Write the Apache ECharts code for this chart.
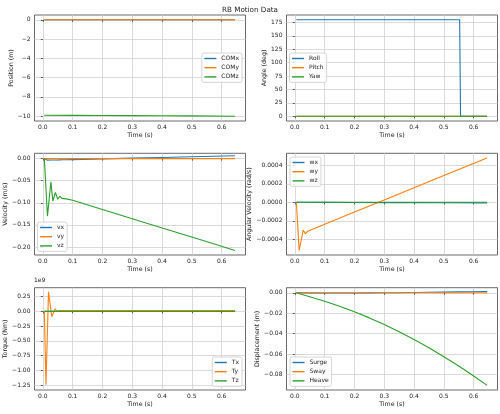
<!DOCTYPE html>
<html><head><meta charset="utf-8">
<script src="https://cdn.jsdelivr.net/npm/echarts@6/dist/echarts.min.js"></script>
<style>html,body{margin:0;padding:0;background:#fff}#c{width:500px;height:414px}</style>
</head><body><div id="c"></div>
<script>
// ---------- DATA ----------
// Panel 1: Position
const tPos = [0.005, 0.1, 0.2, 0.3, 0.4, 0.5, 0.645];
const COMx = [0, 0, 0, 0, 0, 0.0005, 0.001];
const COMy = [0, 0, 0, 0, 0, 0, 0];
const COMz = [-9.91, -9.918, -9.928, -9.94, -9.955, -9.972, -10.0];
// Panel 2: Angle
const tAng = [0.005, 0.1, 0.2, 0.3, 0.4, 0.5, 0.553, 0.556, 0.645];
const Roll = [180, 180, 180, 180, 180, 180, 180, 0, 0];
const Pitch = [0, 0, 0, 0, 0, 0, 0, 0, 0];
const Yaw = [0, 0, 0, 0, 0, 0, 0, 0, 0];
// Panel 3: Velocity
const tVel = [0.005, 0.0155, 0.027, 0.0335, 0.042, 0.05, 0.057, 0.064, 0.069, 0.078, 0.1, 0.2, 0.3, 0.4, 0.5, 0.645];
const vx = [0, -0.0035, -0.0033, -0.0032, -0.0031, -0.003, -0.0028, -0.0027, -0.0027, -0.0025, -0.0022, -0.0006, 0.001, 0.0026, 0.0042, 0.0065];
const vy = [0, 0, 0, 0, 0, 0, 0, 0, 0, 0, 0, 0, 0, 0, 0, 0];
const vz = [0, -0.13, -0.0526, -0.096, -0.0764, -0.092, -0.085, -0.09, -0.0877, -0.091, -0.094, -0.115, -0.136, -0.157, -0.1775, -0.2076];
// Panel 4: Angular velocity
const tAngVel = [0.005, 0.0145, 0.028, 0.035, 0.045, 0.1, 0.2, 0.3, 0.4, 0.5, 0.645];
const wx = [0, 0, 0, 0, 0, -0.000001, -0.000002, -0.000003, -0.000004, -0.000005, -0.000006];
const wy = [0, -0.00052, -0.0003, -0.00034, -0.00031, -0.000238, -0.000106, 0.000026, 0.000157, 0.000289, 0.00048];
const wz = [0, 0, 0, 0, 0, 0, 0, 0, 0, 0, 0];
// Panel 5: Torque
const tTrq = [0.005, 0.0105, 0.019, 0.030, 0.041, 0.048, 0.055, 0.645];
const Tx = [0, 0, 0, 0, 0, 0, 0, 0];
const Ty = [0, -1.24e9, 0.33e9, -0.09e9, 0.04e9, 0.0, 0.012e9, 0.012e9];
const Tz = [0, 0, 0, 0, 0, 0, 0, 0];
// Panel 6: Displacement
const tDisp = [0.005, 0.05, 0.1, 0.15, 0.2, 0.25, 0.3, 0.35, 0.4, 0.45, 0.5, 0.55, 0.6, 0.645];
const Surge = [0, -0.0001, -0.0002, -0.0002, -0.0002, -0.0001, 0, 0.0001, 0.0003, 0.0005, 0.0007, 0.0009, 0.0011, 0.0013];
const Sway = [0, 0, 0, 0, 0, 0, 0, 0, 0, 0, 0, 0, 0, 0];
const Heave = [0, -0.0038, -0.0082, -0.0131, -0.0185, -0.0245, -0.031, -0.038, -0.0456, -0.0537, -0.0625, -0.0716, -0.0813, -0.0905];

// Tick labels
const xTicks = [0, 0.1, 0.2, 0.3, 0.4, 0.5, 0.6];
const posTicks = [-10, -8, -6, -4, -2, 0];
const angTicks = [0, 25, 50, 75, 100, 125, 150, 175];
const velTicks = [-0.20, -0.15, -0.10, -0.05, 0];
const angVelTicks = [-0.0004, -0.0002, 0, 0.0002, 0.0004];
const trqTicks = [-1.25e9, -1.0e9, -0.75e9, -0.5e9, -0.25e9, 0, 0.25e9];
const dispTicks = [-0.08, -0.06, -0.04, -0.02, 0];

// ---------- CHART ----------
const FONT = 'DejaVu Sans';
const TXT = '#222';
const C = ['#1f77b4', '#ff7f0e', '#2ca02c'];
function fmt(d, scale) {
  return function (v) {
    let x = v / (scale || 1);
    if (Math.abs(x) < 1e-12) x = 0;
    let s = x.toFixed(d);
    if (/^-0(\.0+)?$/.test(s)) s = s.slice(1);
    return s.replace('-', '\u2212');
  };
}
const grids = [
  {left: 34.5, top: 15, width: 211, height: 106},
  {left: 286.5, top: 15, width: 211, height: 106},
  {left: 34.5, top: 153.3, width: 211, height: 101.7},
  {left: 286.5, top: 153.3, width: 211, height: 101.7},
  {left: 34.5, top: 287.7, width: 211, height: 102.3},
  {left: 286.5, top: 287.7, width: 211, height: 102.3}
].map(g => Object.assign(g, {show: true, borderColor: '#444', borderWidth: 0.8, backgroundColor: 'transparent'}));

function axisCommon(ticks, formatter, step) {
  return {
    type: 'value',
    minInterval: step, maxInterval: step,
    axisLine: {show: false},
    axisTick: {show: true, length: 2, lineStyle: {color: '#333', width: 0.8}, customValues: ticks},
    axisLabel: {customValues: ticks, fontSize: 6, color: TXT, fontFamily: FONT, formatter: formatter},
    splitLine: {show: true, lineStyle: {color: '#d0d0d0', width: 0.8}},
    nameLocation: 'middle',
    nameTextStyle: {fontSize: 6.3, color: TXT, fontFamily: FONT}
  };
}
const xAxes = grids.map((g, i) => {
  const a = axisCommon(xTicks, fmt(1), 0.1);
  return Object.assign(a, {gridIndex: i, min: -0.028, max: 0.68, name: 'Time (s)', nameGap: 11,
    axisLabel: Object.assign(a.axisLabel, {margin: 3})});
});
const ySpec = [
  {name: 'Position (m)', min: -10.5, max: 0.5, step: 2, ticks: posTicks, f: fmt(0), gap: 18.5},
  {name: 'Angle (deg)', min: -9, max: 189, step: 25, ticks: angTicks, f: fmt(0), gap: 18},
  {name: 'Velocity (m/s)', min: -0.218, max: 0.012, step: 0.05, ticks: velTicks, f: fmt(2), gap: 25.5},
  {name: 'Angular Velocity (rad/s)', min: -0.00057, max: 0.00053, step: 0.0002, ticks: angVelTicks, f: fmt(4), gap: 30.5},
  {name: 'Torque (Nm)', min: -1.33e9, max: 0.40e9, step: 0.25e9, ticks: trqTicks, f: fmt(2, 1e9), gap: 25},
  {name: 'Displacement (m)', min: -0.095, max: 0.005, step: 0.02, ticks: dispTicks, f: fmt(2), gap: 25}
];
const yAxes = ySpec.map((s, i) => {
  const a = axisCommon(s.ticks, s.f, s.step);
  return Object.assign(a, {gridIndex: i, min: s.min, max: s.max, name: s.name, nameGap: s.gap,
    axisLabel: Object.assign(a.axisLabel, {margin: 4})});
});

const panels = [
  {t: tPos, s: [['COMx', COMx], ['COMy', COMy], ['COMz', COMz]]},
  {t: tAng, s: [['Roll', Roll], ['Pitch', Pitch], ['Yaw', Yaw]]},
  {t: tVel, s: [['vx', vx], ['vy', vy], ['vz', vz]]},
  {t: tAngVel, s: [['wx', wx], ['wy', wy], ['wz', wz]]},
  {t: tTrq, s: [['Tx', Tx], ['Ty', Ty], ['Tz', Tz]]},
  {t: tDisp, s: [['Surge', Surge], ['Sway', Sway], ['Heave', Heave]]}
];
const series = [];
panels.forEach((p, gi) => {
  p.s.forEach(([name, vals], k) => {
    series.push({
      type: 'line', name: name, xAxisIndex: gi, yAxisIndex: gi,
      data: p.t.map((t, j) => [t, vals[j]]),
      symbol: 'none', showSymbol: false,
      lineStyle: {color: C[k], width: 1.1},
      itemStyle: {color: C[k]},
      z: 2 + k
    });
  });
});

const legendPos = [
  {right: 258, top: 53},
  {left: 289.5, top: 53},
  {left: 37.5, top: 222},
  {left: 290, top: 157},
  {right: 258, top: 357},
  {left: 290, top: 357}
];
const legends = panels.map((p, i) => Object.assign({
  data: p.s.map(x => ({name: x[0], icon: 'rect'})),
  orient: 'vertical',
  itemWidth: 12, itemHeight: 1.4, itemGap: 2.2,
  padding: [2, 3, 2, 2.5],
  borderColor: '#cccccc', borderWidth: 0.8, borderRadius: 2,
  backgroundColor: 'rgba(255,255,255,0.8)',
  textStyle: {fontSize: 6, color: TXT, fontFamily: FONT, lineHeight: 7, height: 7},
  selectedMode: false
}, legendPos[i]));

const chart = echarts.init(document.getElementById('c'), null, {renderer: 'canvas'});
chart.setOption({
  animation: false,
  backgroundColor: '#fff',
  textStyle: {fontFamily: FONT},
  title: [
    {text: 'RB Motion Data', left: 'center', top: 1.5, textStyle: {fontSize: 7.2, fontWeight: 'normal', color: TXT, fontFamily: FONT}},
    {text: '1e9', left: 34, top: 277.5, padding: 0, textStyle: {fontSize: 6, fontWeight: 'normal', color: TXT, fontFamily: FONT}}
  ],
  grid: grids,
  xAxis: xAxes,
  yAxis: yAxes,
  legend: legends,
  series: series
});
</script>
</body></html>
